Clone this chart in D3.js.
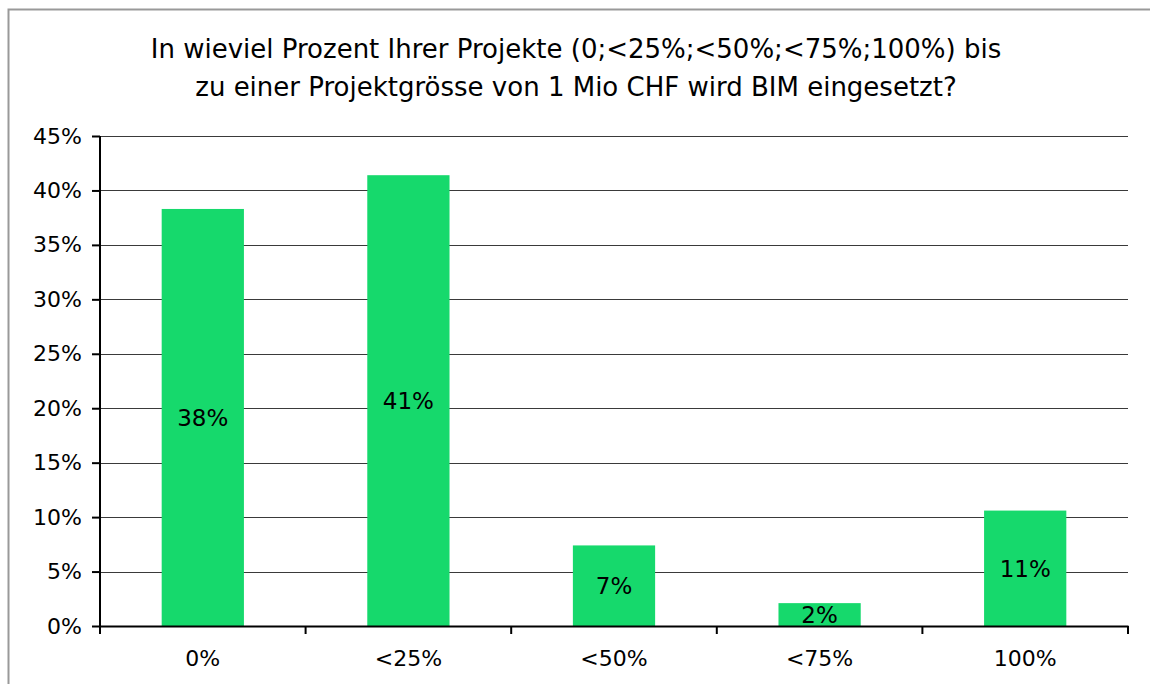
<!DOCTYPE html>
<html>
<head>
<meta charset="utf-8">
<script src="https://cdn.jsdelivr.net/npm/d3@7"></script>
<style>
  body { margin: 0; background: #fff; }
  svg text { font-family: "DejaVu Sans", "Liberation Sans", Arial, sans-serif; fill: #000; }
</style>
</head>
<body>
<div id="chart"></div>
<script>
// data
var categories = ["0%", "<25%", "<50%", "<75%", "100%"];
var values = [38.3, 41.4, 7.4, 2.1, 10.6];
var yTicks = [0, 5, 10, 15, 20, 25, 30, 35, 40, 45];
var titleLines = [
    "In wieviel Prozent Ihrer Projekte (0;<25%;<50%;<75%;100%) bis",
    "zu einer Projektgrösse von 1 Mio CHF wird BIM eingesetzt?"
];

var W = 1150, H = 684;
var plotLeft = 100, plotRight = 1128, plotTop = 136, plotBottom = 626;
var barColor = "#16d96c";
var fontFam = "DejaVu Sans, Liberation Sans, Arial, sans-serif";

var svg = d3.select("#chart").append("svg")
    .attr("width", W)
    .attr("height", H);

// outer frame
svg.append("rect")
    .attr("x", 8.5).attr("y", 9.5)
    .attr("width", W + 10).attr("height", H + 10)
    .attr("fill", "none")
    .attr("stroke", "#999")
    .attr("stroke-width", 2);

// title
svg.selectAll("text.title")
    .data(titleLines)
    .enter().append("text")
    .classed("title", true)
    .attr("x", 576)
    .attr("y", function(d, i){ return 58 + i * 38; })
    .attr("text-anchor", "middle")
    .attr("font-size", "26px")
    .text(function(d){ return d; });

var x = d3.scaleBand()
    .domain(categories)
    .range([plotLeft, plotRight])
    .paddingInner(0.6)
    .paddingOuter(0.3);

var xOuter = d3.scaleBand()
    .domain(categories)
    .range([plotLeft, plotRight]);

var y = d3.scaleLinear()
    .domain([0, 45])
    .range([plotBottom, plotTop]);

// gridlines
svg.selectAll("line.grid")
    .data(yTicks.slice(1))
    .enter().append("line")
    .classed("grid", true)
    .attr("x1", plotLeft).attr("x2", plotRight)
    .attr("y1", function(d){ return Math.round(y(d)) + 0.5; })
    .attr("y2", function(d){ return Math.round(y(d)) + 0.5; })
    .attr("stroke", "#3a3a3a")
    .attr("stroke-width", 1.2);

// bars
svg.selectAll("rect.bar")
    .data(values)
    .enter().append("rect")
    .classed("bar", true)
    .attr("x", function(d, i){ return x(categories[i]); })
    .attr("width", x.bandwidth())
    .attr("y", function(d){ return y(d); })
    .attr("height", function(d){ return y(0) - y(d); })
    .attr("fill", barColor);

// value labels
svg.selectAll("text.val")
    .data(values)
    .enter().append("text")
    .classed("val", true)
    .attr("x", function(d, i){ return x(categories[i]) + x.bandwidth() / 2; })
    .attr("y", function(d){ return (y(d) + y(0)) / 2; })
    .attr("dy", "0.36em")
    .attr("text-anchor", "middle")
    .attr("font-size", "23px")
    .text(function(d){ return Math.round(d) + "%"; });

// y axis
var yAxis = d3.axisLeft(y)
    .tickValues(yTicks)
    .tickSize(8)
    .tickPadding(10)
    .tickFormat(function(d){ return d + "%"; });

var gy = svg.append("g")
    .attr("transform", "translate(" + plotLeft + ",0)")
    .call(yAxis);
gy.select(".domain").attr("stroke", "#000").attr("stroke-width", 2).attr("d", "M0," + plotTop + "V" + plotBottom);
gy.selectAll(".tick line").attr("stroke", "#000").attr("stroke-width", 2);
gy.selectAll(".tick text").attr("font-size", "22px").attr("font-family", fontFam).attr("fill", "#000");

// x axis
var xAxis = d3.axisBottom(xOuter)
    .tickSize(0)
    .tickPadding(24)
    .tickSizeOuter(0);

var gx = svg.append("g")
    .attr("transform", "translate(0," + plotBottom + ")")
    .call(xAxis);
gx.select(".domain").attr("stroke", "#000").attr("stroke-width", 2);
gx.selectAll(".tick text").attr("font-size", "22px").attr("font-family", fontFam).attr("fill", "#000");

// category boundary ticks
var bounds = categories.map(function(c){ return xOuter(c); }).concat([plotRight]);
gx.selectAll("line.bound")
    .data(bounds)
    .enter().append("line")
    .classed("bound", true)
    .attr("x1", function(d){ return d; })
    .attr("x2", function(d){ return d; })
    .attr("y1", 0).attr("y2", 8)
    .attr("stroke", "#000")
    .attr("stroke-width", 2);
</script>
</body>
</html>
